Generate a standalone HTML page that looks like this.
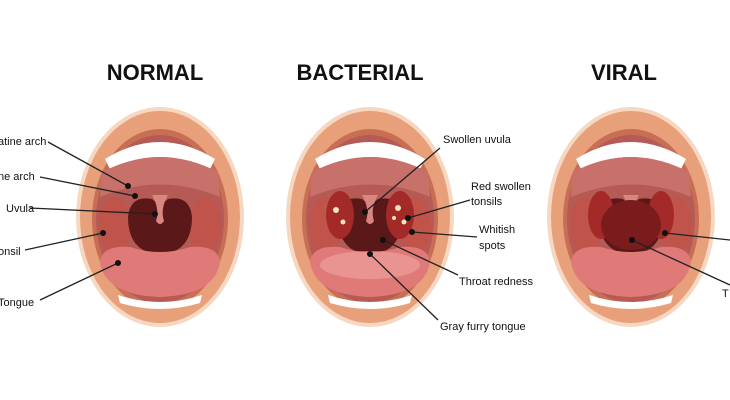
<!DOCTYPE html><html><head><style>body{margin:0;background:#fff}svg{display:block}</style></head><body>
<svg width="730" height="400" viewBox="0 0 730 400" font-family="Liberation Sans, sans-serif">
<defs>
<g id="m">
<ellipse cx="0" cy="0" rx="84" ry="110" fill="#f6d8c2"/>
<ellipse cx="0" cy="0" rx="80" ry="106" fill="#e8a07a"/>
<ellipse cx="0" cy="2" rx="68" ry="90" fill="#c86e55"/>
<ellipse cx="0" cy="2" rx="64" ry="84" fill="#b65a55"/>
<path d="M-55,-58 Q0,-92 55,-58 L50,-48 Q0,-72 -50,-48Z" fill="#fff"/>
<path d="M-58,-45 Q0,-75 58,-45 L60,-20 Q0,-45 -60,-20Z" fill="#c8706a"/>
<ellipse cx="-45" cy="8" rx="16" ry="28" fill="#c0544a"/>
<ellipse cx="45" cy="8" rx="16" ry="28" fill="#c0544a"/>
<path d="M-32,0 Q-30,-22 -8,-18 Q0,-10 8,-18 Q30,-22 32,0 Q32,35 0,38 Q-32,35 -32,0Z" fill="#5a1818"/>
<path d="M-8,-22 Q0,-8 -4,4 Q0,10 4,4 Q0,-8 8,-22Z" fill="#d88680"/>
<path d="M-60,45 Q-58,28 -30,30 Q0,40 30,30 Q58,28 60,45 Q55,78 0,80 Q-55,78 -60,45Z" fill="#e07a78"/>
<path d="M-42,78 Q0,92 42,78 L40,86 Q0,98 -40,86Z" fill="#fff"/>
</g>
</defs>
<g font-weight="bold" font-size="22" text-anchor="middle" fill="#111">
<text x="155" y="80">NORMAL</text><text x="360" y="80">BACTERIAL</text><text x="624" y="80">VIRAL</text></g>
<use href="#m" x="160" y="217"/>
<use href="#m" x="370" y="217"/>
<use href="#m" x="631" y="217"/>
<g fill="#a32a28"><ellipse cx="340" cy="215" rx="14" ry="24"/><ellipse cx="400" cy="215" rx="14" ry="24"/><ellipse cx="601" cy="215" rx="13" ry="24"/><ellipse cx="661" cy="215" rx="13" ry="24"/><ellipse cx="631" cy="225" rx="30" ry="25" fill="#7a1c1c"/></g>
<g fill="#f3e2b8"><circle cx="336" cy="210" r="3"/><circle cx="343" cy="222" r="2.5"/><circle cx="398" cy="208" r="3"/><circle cx="404" cy="222" r="2.5"/><circle cx="394" cy="218" r="2"/></g>
<ellipse cx="370" cy="265" rx="50" ry="14" fill="#eea5a2" opacity=".6"/>
<g stroke="#222" stroke-width="1.3" fill="none">
<path d="M48,142 L128,186 M40,177 L135,196 M30,208 L155,214 M25,250 L103,233 M40,300 L118,263"/>
<path d="M440,148 L365,212 M470,200 L408,218 M477,237 L412,232 M458,275 L383,240 M438,320 L370,254"/>
<path d="M665,233 L730,240 M632,240 L730,285"/>
</g>
<g fill="#111"><circle cx="128" cy="186" r="3"/><circle cx="135" cy="196" r="3"/><circle cx="155" cy="214" r="3"/><circle cx="103" cy="233" r="3"/><circle cx="118" cy="263" r="3"/>
<circle cx="365" cy="212" r="3"/><circle cx="408" cy="218" r="3"/><circle cx="412" cy="232" r="3"/><circle cx="383" cy="240" r="3"/><circle cx="370" cy="254" r="3"/><circle cx="665" cy="233" r="3"/><circle cx="632" cy="240" r="3"/></g>
<g font-size="11" fill="#111">
<text x="-2" y="145">atine arch</text><text x="-2" y="180">ne arch</text><text x="6" y="212">Uvula</text><text x="-2" y="255">onsil</text><text x="-2" y="306">Tongue</text>
<text x="443" y="143">Swollen uvula</text><text x="471" y="190">Red swollen</text><text x="471" y="205">tonsils</text><text x="479" y="233">Whitish</text><text x="479" y="249">spots</text><text x="459" y="285">Throat redness</text><text x="440" y="330">Gray furry tongue</text><text x="722" y="297">T</text></g>
</svg></body></html>
